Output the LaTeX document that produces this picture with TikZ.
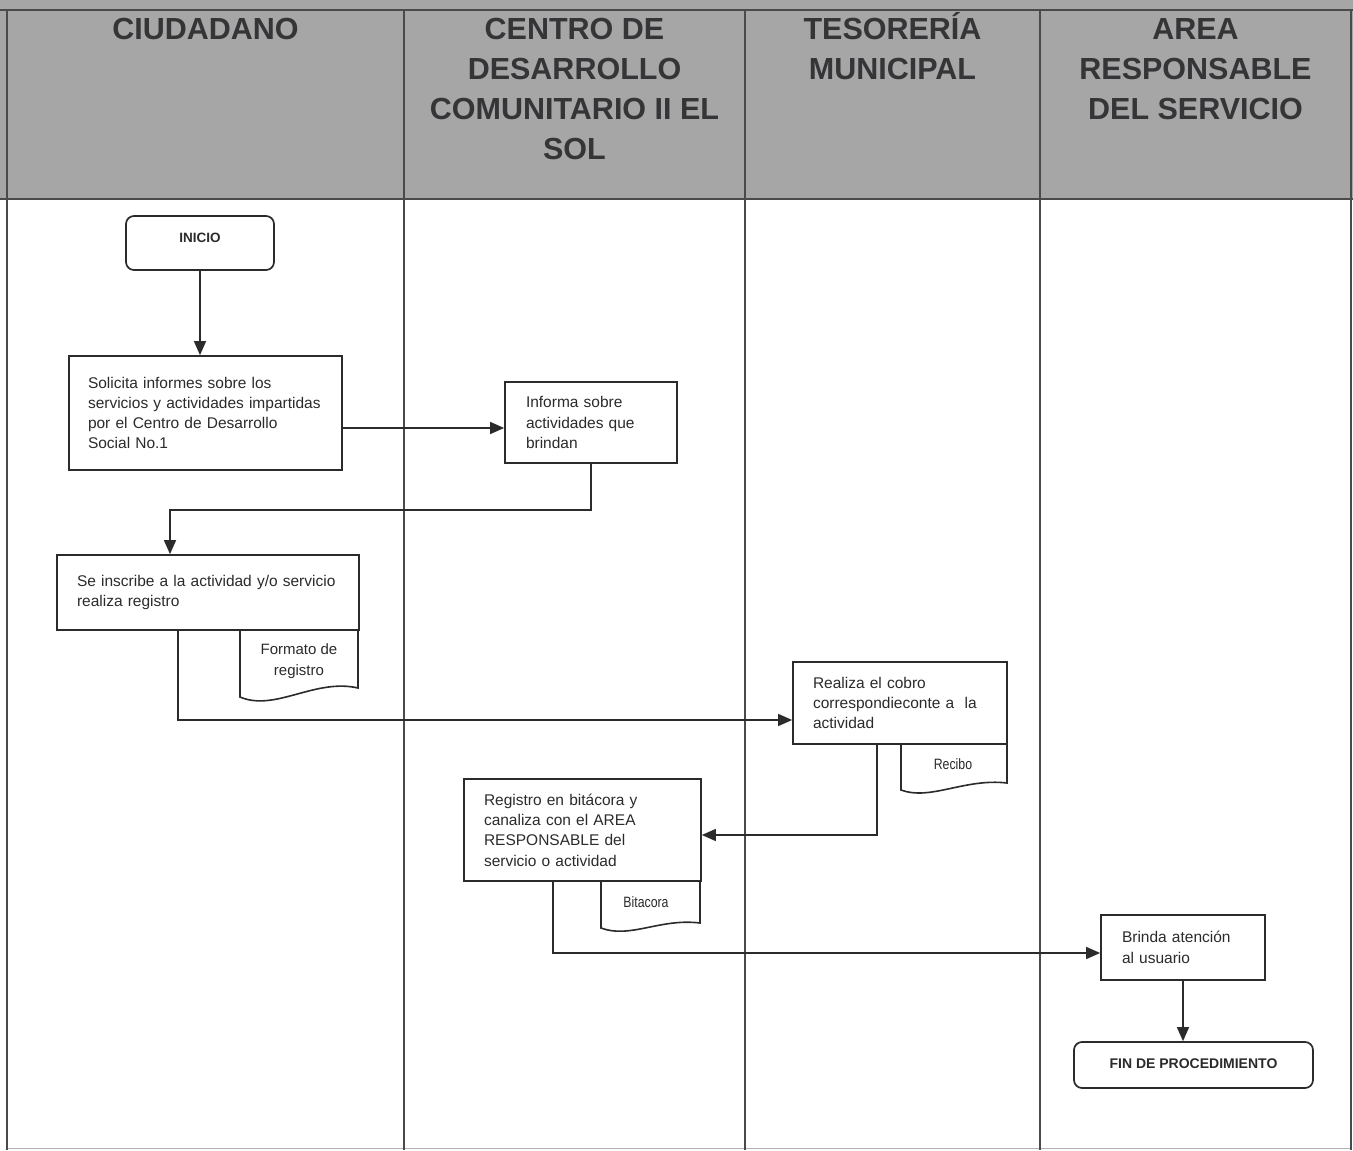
\documentclass[tikz,border=0pt]{standalone}
\usepackage{fontspec}
\setmainfont{Liberation Sans}
\newfontfamily\narrowsans[FakeStretch=0.82]{Liberation Sans}
\usetikzlibrary{arrows.meta}
\definecolor{headgray}{HTML}{A6A6A6}
\definecolor{ink}{HTML}{2B2B2B}
\definecolor{headink}{HTML}{353538}
\definecolor{laneink}{HTML}{4A4A4A}
\begin{document}
\begin{tikzpicture}[x=1pt,y=-1pt,
  lane/.style={draw=laneink, line width=1.2pt},
  head/.style={anchor=north, align=center, text=headink, inner sep=0pt,
    font=\fontsize{30.5}{40}\selectfont\bfseries},
  box/.style={draw=ink, line width=1.7pt, fill=white, align=left,
    inner xsep=20pt, inner ysep=0pt, text=ink,
    font=\fontsize{15.5}{20.3}\selectfont},
  term/.style={draw=ink, line width=1.7pt, rounded corners=8pt, fill=white,
    inner sep=0pt, text=ink},
  flow/.style={draw=ink, line width=1.4pt, -{Triangle[length=14pt,width=12pt]}},
  doc/.style={draw=ink, line width=1.6pt, fill=white},
  doclabel/.style={align=center, inner sep=0pt, text=ink}
]
\useasboundingbox (0,0) rectangle (1353,1151);
\fill[white] (0,0) rectangle (1353,1151);

% header band and swimlane grid
\fill[headgray] (0,0) rectangle (1353,199);
\draw[lane] (0,10) -- (1353,10);
\draw[lane] (0,199) -- (1353,199);
\draw[draw=gray!60, line width=0.8pt] (7,1148) -- (1351,1148);
\foreach \lx in {7,404,745,1040,1351}
  \draw[lane] (\lx,10) -- (\lx,1150);

% lane titles
\node[head] (h1) at (205.5,11.5) {\strut CIUDADANO};
\node[head] (h2) at (574.5,11.5) {\strut CENTRO DE\\DESARROLLO\\COMUNITARIO II EL\\SOL};
\node[head] (h3) at (892.5,11.5) {\strut TESORERÍA\\MUNICIPAL};
\node[head] (h4) at (1195.5,11.5) {\strut AREA\\RESPONSABLE\\DEL SERVICIO};

% documents attached under process boxes
\draw[doc] (240,628) -- (240,697) .. controls (275,712) and (315,678) .. (358,688) -- (358,628);
\node[doclabel, font=\fontsize{15}{21}\selectfont] (d1) at (299,661) {Formato de\\registro};
\draw[doc] (901,742) -- (901,790) .. controls (930,801) and (965,778) .. (1007,783) -- (1007,742);
\node[doclabel, font=\narrowsans\fontsize{15}{20}\selectfont] (d2) at (953,764) {Recibo};
\draw[doc] (601,879) -- (601,928) .. controls (630,939) and (660,918) .. (700,923) -- (700,879);
\node[doclabel, font=\narrowsans\fontsize{15}{20}\selectfont] (d3) at (646,902) {Bitacora};

% steps
\node[term, minimum width=148pt, minimum height=54pt, text height=9.5pt, text depth=10pt,
  font=\fontsize{13.5}{16}\selectfont\bfseries] (ini) at (200,243) {INICIO};
\node[box, text width=235pt, inner xsep=19pt, minimum height=114pt] (b1) at (205.5,413)
  {Solicita informes sobre los\\servicios y actividades impartidas\\por el Centro de Desarrollo\\Social No.1};
\node[box, text width=130pt, inner xsep=21pt, minimum height=81pt] (b2) at (591,422.5)
  {Informa sobre\\actividades que\\brindan};
\node[box, text width=262pt, minimum height=75pt] (b3) at (208,592.5)
  {\makebox[261pt][s]{Se inscribe a la actividad y/o servicio}\\realiza registro\\[4pt]};
\node[box, text width=174pt, minimum height=82pt] (b4) at (900,703)
  {Realiza el cobro\\correspondieconte a\ \ la\\actividad};
\node[box, text width=197pt, minimum height=102pt] (b5) at (582.5,830)
  {Registro en bitácora y\\canaliza con el AREA\\RESPONSABLE del\\servicio o actividad};
\node[box, text width=122pt, inner xsep=21pt, minimum height=65pt] (b6) at (1183,947.5)
  {Brinda atención\\al usuario};
\node[term, minimum width=239pt, minimum height=46pt, text height=10pt, text depth=4pt,
  font=\fontsize{14}{17}\selectfont\bfseries] (fin) at (1193.5,1065) {FIN DE PROCEDIMIENTO};

% flow connectors
\coordinate (k1) at (170,510);
\draw[flow] (ini.south) -- (ini.south |- b1.north);
\draw[flow] ([yshift=-15pt]b1.east) -- ([yshift=-15pt]b1.east -| b2.west);
\draw[flow] (b2.south) |- (k1) -- (k1 |- b3.north);
\draw[flow] ([xshift=-30pt]b3.south) |- ([yshift=-17pt]b4.west);
\draw[flow] ([xshift=-23pt]b4.south) |- ([yshift=-5pt]b5.east);
\draw[flow] ([xshift=-29.5pt]b5.south) |- ([yshift=-5.5pt]b6.west);
\draw[flow] (b6.south) -- (b6.south |- fin.north);
\end{tikzpicture}
\end{document}
